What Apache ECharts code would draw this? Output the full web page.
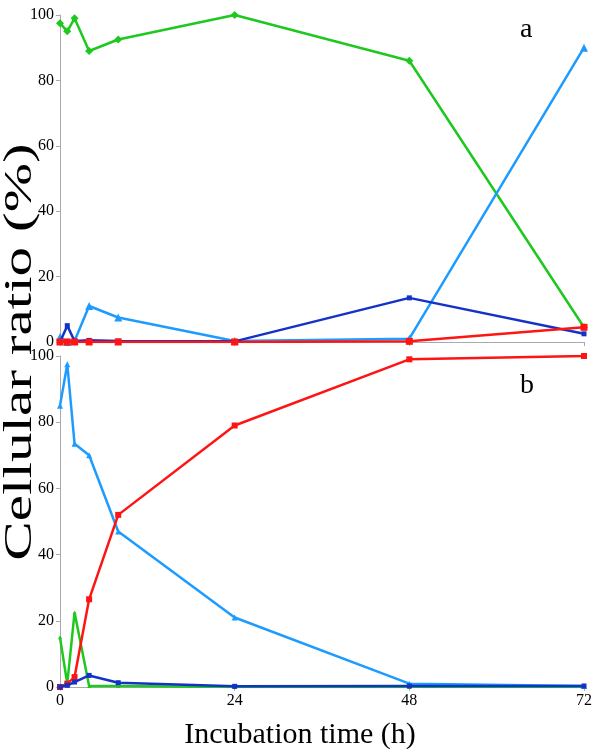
<!DOCTYPE html>
<html><head><meta charset="utf-8">
<script src="https://cdn.jsdelivr.net/npm/echarts@6/dist/echarts.min.js"></script>
<style>html,body{margin:0;padding:0;background:#fff}#c{width:600px;height:750px}</style>
</head><body><div id="c"></div>
<script>
const hours = [0, 1, 2, 4, 8, 24, 48, 72];
const xTicks = [0, 24, 48, 72];
// Panel a
const aGreen = [97.5, 95, 99, 89, 92.5, 100, 86, 4.5];
const aLightBlue = [1.5, 0, 0.3, 11, 7.5, 0.3, 1, 90];
const aDarkBlue = [0, 5, 0.3, 0.5, 0.3, 0.2, 13.5, 2.5];
const aRed = [0, 0, 0, 0, 0, 0, 0.2, 4.5];
// Panel b
const bLightBlue = [85, 97.5, 73.5, 70, 47, 21, 1, 0.3];
const bRed = [0, 1, 3, 26.5, 52, 79, 99, 100];
const bGreen = [15, 1, 22.5, 0.3, 0.3, 0, 0, 0];
const bDarkBlue = [0, 0.5, 1.5, 3.5, 1.3, 0.2, 0.3, 0.3];

const C = {green:'#1ec81e', light:'#1e9bff', dark:'#1432c8', red:'#ff1414'};
const pts = v => hours.map((h,i)=>[h,v[i]]);
const font = '"Liberation Serif", "DejaVu Serif", serif';

function ser(idx, data, color, symbol, size, z){
  return {type:'line', xAxisIndex:idx, yAxisIndex:idx, data:pts(data), symbol:symbol, symbolSize:size,
    lineStyle:{color:color,width:2.5}, itemStyle:{color:color}, z:z, animation:false};
}
function yAx(idx){
  return {type:'value', gridIndex:idx, min:0, max:100, interval:20,
    axisLine:{show:true, lineStyle:{color:'#aaaaaa', width:1}},
    axisTick:{show:true, length:4, lineStyle:{color:'#aaaaaa'}},
    axisLabel:{color:'#000', fontFamily:font, fontSize:16, margin:6},
    splitLine:{show:false}};
}
function xAx(idx, labels){
  return {type:'value', gridIndex:idx, min:0, max:72, interval:24,
    axisLine:{show:true, onZero:false, lineStyle:{color:'#aaaaaa', width:1}},
    axisTick:{show:true, length:4, lineStyle:{color:'#aaaaaa'}},
    axisLabel:{show:labels, color:'#000', fontFamily:font, fontSize:16, margin:6},
    splitLine:{show:false}};
}
const chart = echarts.init(document.getElementById('c'), null, {renderer:'canvas'});
chart.setOption({
  backgroundColor:'#fff',
  animation:false,
  grid:[{left:60, right:16, top:15, height:327},{left:60, right:16, top:356, height:331}],
  xAxis:[xAx(0,false), xAx(1,true)],
  yAxis:[yAx(0), yAx(1)],
  series:[
    ser(0, aGreen, C.green, 'diamond', 8, 3),
    ser(0, aLightBlue, C.light, 'triangle', 8, 4),
    ser(0, aDarkBlue, C.dark, 'rect', 5, 5),
    ser(0, aRed, C.red, 'rect', 7, 6),
    ser(1, bLightBlue, C.light, 'triangle', 6, 4),
    ser(1, bGreen, C.green, 'triangle', 4, 3),
    ser(1, bDarkBlue, C.dark, 'rect', 5, 6),
    ser(1, bRed, C.red, 'rect', 6, 5)
  ],
  graphic:[
    {type:'text', left:520, top:16, style:{text:'a', font:'28px '+font, fill:'#000'}},
    {type:'text', left:520, top:372, style:{text:'b', font:'28px '+font, fill:'#000'}},
    {type:'text', x:300, y:735, style:{text:'Incubation time (h)', font:'30px '+font, fill:'#000', align:'center', verticalAlign:'middle'}},
    {type:'text', x:20, y:352, rotation:Math.PI/2, scaleX:1.48, style:{text:'Cellular ratio (%)', font:'40px '+font, fill:'#000', align:'center', verticalAlign:'middle'}}
  ]
});
</script></body></html>
